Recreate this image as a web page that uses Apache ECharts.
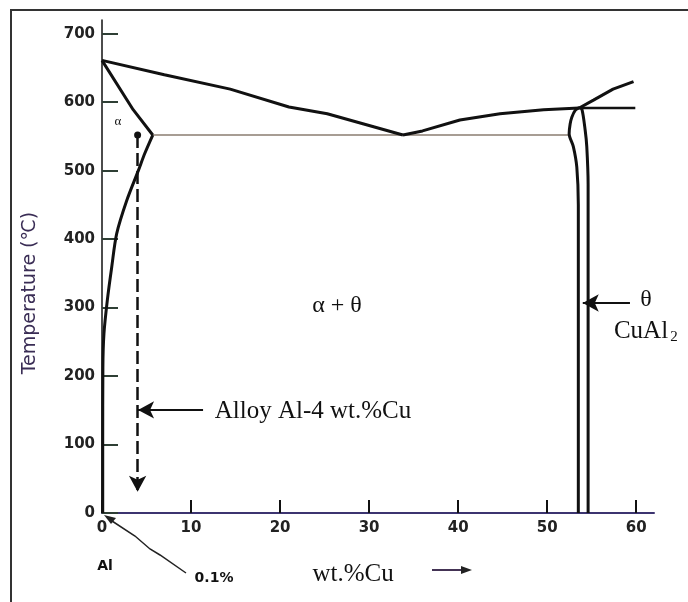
<!DOCTYPE html>
<html>
<head>
<meta charset="utf-8">
<script src="https://cdn.jsdelivr.net/npm/echarts@6/dist/echarts.min.js"></script>
<style>
html, body { margin: 0; padding: 0; background: #fff; }
#main { width: 688px; height: 602px; }
</style>
</head>
<body>
<div id="main"></div>
<script>
// Al-Cu phase diagram, Al-rich side
const xTicks = [0, 10, 20, 30, 40, 50, 60];
const yTicks = [0, 100, 200, 300, 400, 500, 600, 700];

const liquidusLeft = [[0, 661], [7, 640], [14.4, 619], [21, 593], [25.3, 583], [30, 566], [33.8, 552]];
const liquidusRight = [[33.8, 552], [36, 558], [40.2, 574], [44.7, 583], [49.6, 589], [53.6, 591.5]];
const liquidusTheta = [[53.6, 591.5], [55.2, 603], [57.4, 619], [59.7, 630]];
const solidus = [[0, 661], [3.5, 589], [5.7, 552]];
const solvus = [[5.7, 552], [4.8, 525], [4.08, 500], [2.77, 456], [1.65, 408], [1.09, 359], [0.6, 311], [0.22, 262], [0.1, 213], [0.08, 100], [0.08, 0]];
const eutectic = [[5.7, 552], [52.47, 552]];
const peritectic = [[53.6, 591.5], [59.9, 591.5]];
const thetaLeft = [[53.6, 592], [53.15, 588], [52.77, 578], [52.58, 568], [52.47, 554], [52.94, 535], [53.33, 505], [53.5, 450], [53.5, 0]];
const thetaRight = [[53.6, 592], [53.9, 590], [54.27, 559], [54.45, 535], [54.6, 480], [54.6, 0]];
const alloyLine = [[4, 552], [4, 31]];
const alloyArrow = [[11.35, 150.6], [4.05, 150.6]];
const thetaArrow = [[59.3, 306.7], [54.0, 306.7]];

function curve(data, width, color, smooth) {
    return {
        type: 'line',
        data: data,
        symbol: 'none',
        smooth: smooth || false,
        lineStyle: { color: color || '#111', width: width || 3 },
        silent: true,
        clip: false,
        z: 3
    };
}

function arrow(pts, style, startSymbol) {
    let s = style || { color: '#111', width: 2, type: 'solid' };
    return [
        { coord: pts[0], symbol: startSymbol || 'none', symbolSize: 7, lineStyle: s },
        { coord: pts[1], symbol: 'arrow', symbolSize: [13, 16], lineStyle: s }
    ];
}

const serif = 'Liberation Serif';
const sans = 'DejaVu Sans';

function txt(x, y, text, size, family, extra, weight) {
    return Object.assign({
        type: 'text', x: x, y: y, silent: true, z: 10,
        style: {
            text: text, font: (weight || 'normal') + ' ' + size + 'px "' + family + '"', fill: '#111',
            textAlign: 'center', textVerticalAlign: 'middle',
            align: 'center', verticalAlign: 'middle'
        }
    }, extra || {});
}

let option = {
    backgroundColor: '#fff',
    animation: false,
    grid: { left: 102, right: 34, top: 20, bottom: 89 },
    xAxis: {
        type: 'value', min: 0, max: 62, interval: 10,
        axisLine: { lineStyle: { color: '#3c3470', width: 2 } },
        axisTick: { inside: true, length: 13, lineStyle: { color: '#111', width: 2 }, customValues: xTicks },
        axisLabel: { customValues: xTicks, margin: 8, fontFamily: sans, fontSize: 15, fontWeight: 'bold', color: '#222' },
        splitLine: { show: false }
    },
    yAxis: {
        type: 'value', min: 0, max: 720, interval: 100,
        axisLine: { show: true, lineStyle: { color: '#111', width: 1.5 } },
        axisTick: { inside: true, length: 16, lineStyle: { color: '#2f3f35', width: 2 }, customValues: yTicks },
        axisLabel: { customValues: yTicks, margin: 7, fontFamily: sans, fontSize: 15, fontWeight: 'bold', color: '#222' },
        splitLine: { show: false }
    },
    series: [
        curve(eutectic, 1.5, '#8a7c70'),
        curve(liquidusLeft, 3),
        curve(liquidusRight, 3),
        curve(liquidusTheta, 3),
        curve(peritectic, 2.5),
        curve(solidus, 3),
        curve(solvus, 3, '#111', 0.3),
        curve(thetaLeft, 3, '#111', 0.3),
        curve(thetaRight, 3, '#111', 0.3),
        {
            type: 'line',
            data: [],
            markLine: {
                silent: true,
                animation: false,
                label: { show: false },
                data: [
                    arrow(alloyLine, { color: '#111', width: 2.5, type: [13, 5] }, 'circle'),
                    arrow(alloyArrow),
                    arrow(thetaArrow)
                ]
            }
        }
    ],
    graphic: [
        { type: 'rect', shape: { x: 11, y: 10, width: 700, height: 620 }, style: { fill: 'none', stroke: '#333', lineWidth: 2 }, silent: true, z: 0 },
        txt(30, 293, 'Temperature (\u2103)', 19, sans, { rotation: Math.PI / 2, style: null }),
        txt(118, 122, '\u03b1', 13, serif),
        txt(337, 306, '\u03b1 + \u03b8', 24, serif),
        txt(313, 411, 'Alloy Al-4 wt.%Cu', 25, serif),
        txt(646, 300, '\u03b8', 24, serif),
        txt(641, 331, 'CuAl', 25, serif),
        txt(674, 337, '2', 15, serif),
        txt(105, 566, 'Al', 14, sans, null, 'bold'),
        txt(214, 578, '0.1%', 14, sans, null, 'bold'),
        txt(353, 574, 'wt.%Cu', 25, serif),
        { type: 'polyline', shape: { points: [[186, 573], [160, 555], [150, 549], [135, 536], [112, 521]] }, style: { stroke: '#222', lineWidth: 1.5, fill: 'none' }, silent: true },
        { type: 'polygon', shape: { points: [[104, 515], [116, 518], [111, 524]] }, style: { fill: '#222' }, silent: true },
        { type: 'line', shape: { x1: 432, y1: 570, x2: 463, y2: 570 }, style: { stroke: '#443355', lineWidth: 2 }, silent: true },
        { type: 'polygon', shape: { points: [[461, 566], [472, 570], [461, 574]] }, style: { fill: '#222' }, silent: true }
    ]
};

// y-axis title keeps the purple ink of the original
option.graphic[1].style = {
    text: 'Temperature (\u2103)', font: '19px "DejaVu Sans"', fill: '#3a2d55',
    textAlign: 'center', textVerticalAlign: 'middle', align: 'center', verticalAlign: 'middle'
};

let myChart = echarts.init(document.getElementById('main'));
myChart.setOption(option);
</script>
</body>
</html>
